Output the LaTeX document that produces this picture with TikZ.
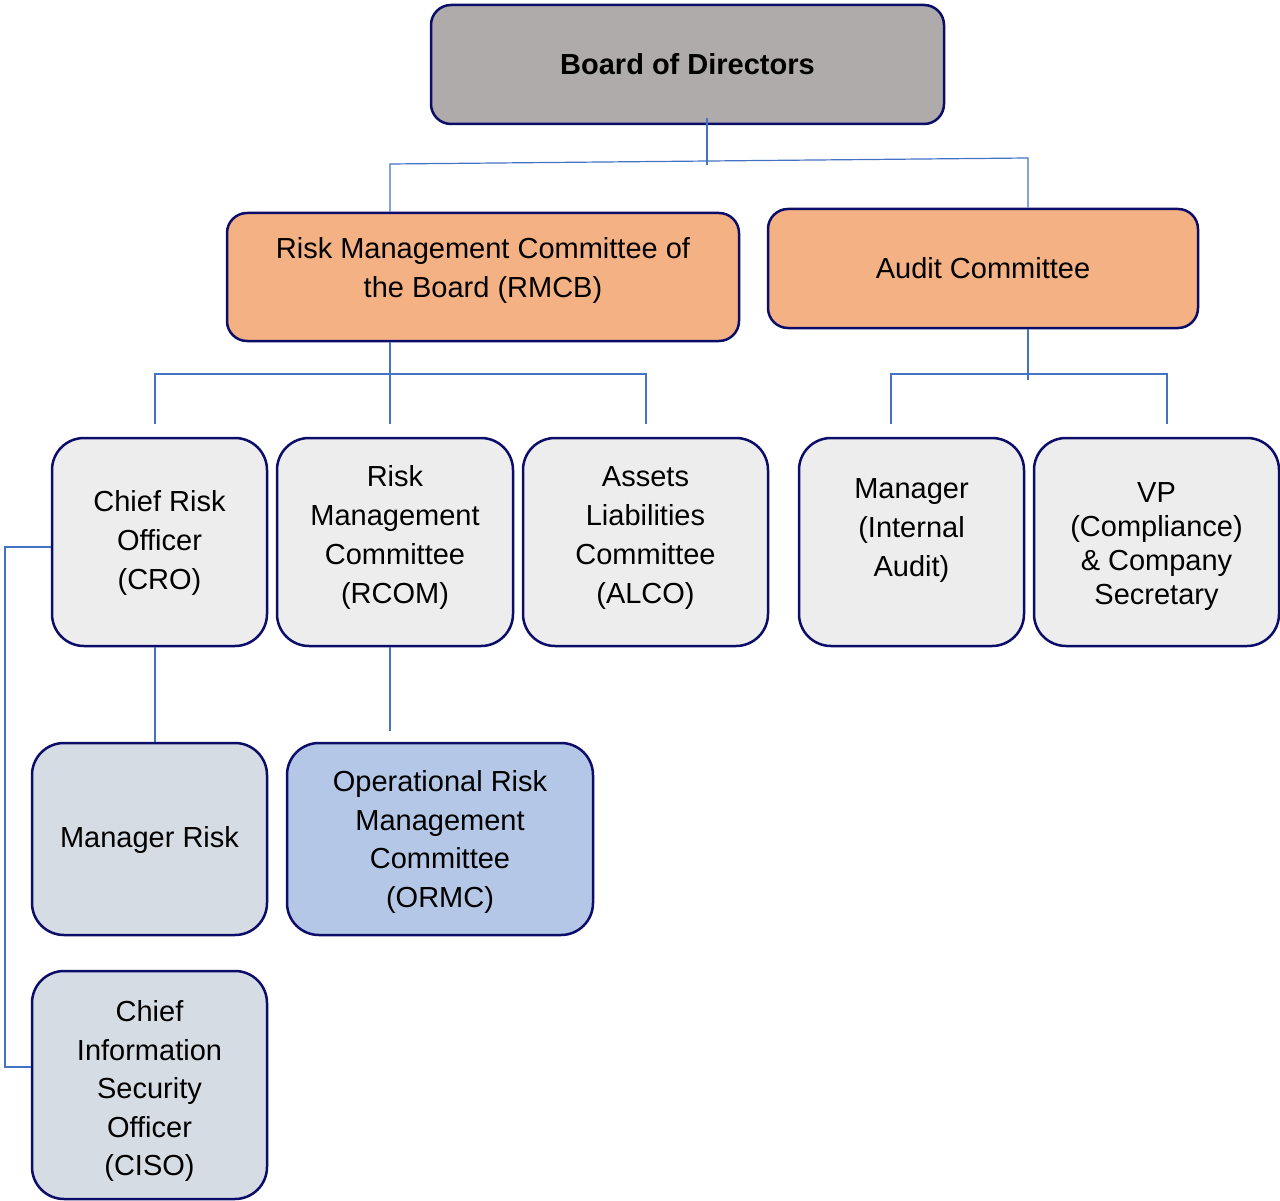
\documentclass[tikz,border=0pt]{standalone}
\usepackage{fontspec}
\setmainfont{Liberation Sans}
\definecolor{navy}{RGB}{12,12,105}
\definecolor{conn}{RGB}{68,114,196}
\definecolor{boardgray}{RGB}{175,171,171}
\definecolor{orangefill}{RGB}{244,177,131}
\definecolor{lightgray}{RGB}{237,237,237}
\definecolor{bluegray}{RGB}{214,220,228}
\definecolor{lightblue}{RGB}{180,199,231}
\tikzset{
  orgbox/.style={draw=navy, line width=2.5pt, rounded corners=20pt, align=center, inner sep=0pt,
     font=\fontsize{29}{39}\selectfont, text=black},
  lowbox/.style={orgbox, rounded corners=32pt},
  label text/.style={align=center, inner sep=0pt, font=\fontsize{29}{39}\selectfont},
  link/.style={draw=conn, line width=1.2pt}
}
\begin{document}
\begin{tikzpicture}[x=1pt,y=-1pt]
\useasboundingbox (0,0) rectangle (1280,1201);
% boxes
\node[orgbox, fill=boardgray, minimum width=513pt, minimum height=119pt, font=\fontsize{29}{39}\selectfont\bfseries] (board) at (687.5,64.5) {Board of Directors};
\node[orgbox, fill=orangefill, minimum width=512pt, minimum height=128pt] (rmcb) at (483,277) {};
\node[label text] (rmcbt) at (483,270) {Risk Management Committee of\\the Board (RMCB)};
\node[orgbox, fill=orangefill, minimum width=430pt, minimum height=119pt] (audit) at (983,268.5) {Audit Committee};
\node[lowbox, fill=lightgray, minimum width=215pt, minimum height=208pt] (cro) at (159.5,542) {};
\node[label text] (crot) at (159.5,543) {Chief Risk\\Officer\\(CRO)};
\node[lowbox, fill=lightgray, minimum width=236pt, minimum height=208pt] (rcom) at (395,542) {};
\node[label text] (rcomt) at (395,537.5) {Risk\\Management\\Committee\\(RCOM)};
\node[lowbox, fill=lightgray, minimum width=245pt, minimum height=208pt] (alco) at (645.5,542) {};
\node[label text] (alcot) at (645.5,538) {Assets\\Liabilities\\Committee\\(ALCO)};
\node[lowbox, fill=lightgray, minimum width=225pt, minimum height=208pt] (mia) at (911.5,542) {};
\node[label text] (miat) at (911.5,531) {Manager\\(Internal\\Audit)};
\node[lowbox, fill=lightgray, minimum width=245pt, minimum height=208pt] (vp) at (1156.5,542) {};
\node[label text, font=\fontsize{29}{34}\selectfont] (vpt) at (1156.5,547) {VP\\(Compliance)\\\& Company\\Secretary};
\node[lowbox, fill=bluegray, minimum width=235pt, minimum height=192pt] (mrisk) at (149.5,839) {};
\node[label text] (mriskt) at (149.5,840) {Manager Risk};
\node[lowbox, fill=lightblue, minimum width=306pt, minimum height=192pt] (ormc) at (440,839) {};
\node[label text, font=\fontsize{29}{38.5}\selectfont] (ormct) at (440,842) {Operational Risk\\Management\\Committee\\(ORMC)};
\node[lowbox, fill=bluegray, minimum width=235pt, minimum height=228pt] (ciso) at (149.5,1085) {};
\node[label text, font=\fontsize{29}{38.5}\selectfont] (cisot) at (149.5,1091) {Chief\\Information\\Security\\Officer\\(CISO)};
% junction coordinates
\coordinate (bj) at (707,165);
\coordinate (bl) at (390,164);
\coordinate (br) at (1028,158);
\coordinate (rj) at (390,374);
\coordinate (rl) at (155,374);
\coordinate (rr) at (646,374);
\coordinate (aj) at (1028,380);
\coordinate (al) at (891,374);
\coordinate (ar) at (1167,374);
\coordinate (lim) at (0,424);
\coordinate (cj) at (5,547);
\coordinate (cb) at (5,1067);
% connectors
\draw[link] (707,118) -- (bj);
\draw[link] (bl |- rmcb.north) -- (bl) -- (br) -- (br |- audit.north);
\draw[link] (rmcb.south -| rj) -- (rj |- lim);
\draw[link] (rl |- lim) -- (rl) -- (rr) -- (rr |- lim);
\draw[link] (audit.south -| aj) -- (aj);
\draw[link] (al |- lim) -- (al) -- (ar) -- (ar |- lim);
\draw[link] (cro.south -| rl) -- (mrisk.north -| rl);
\draw[link] (rcom.south -| rj) -- (rj |- 0,731);
\draw[link] (cro.west |- cj) -- (cj) -- (cb) -- (ciso.west |- cb);
\end{tikzpicture}
\end{document}
